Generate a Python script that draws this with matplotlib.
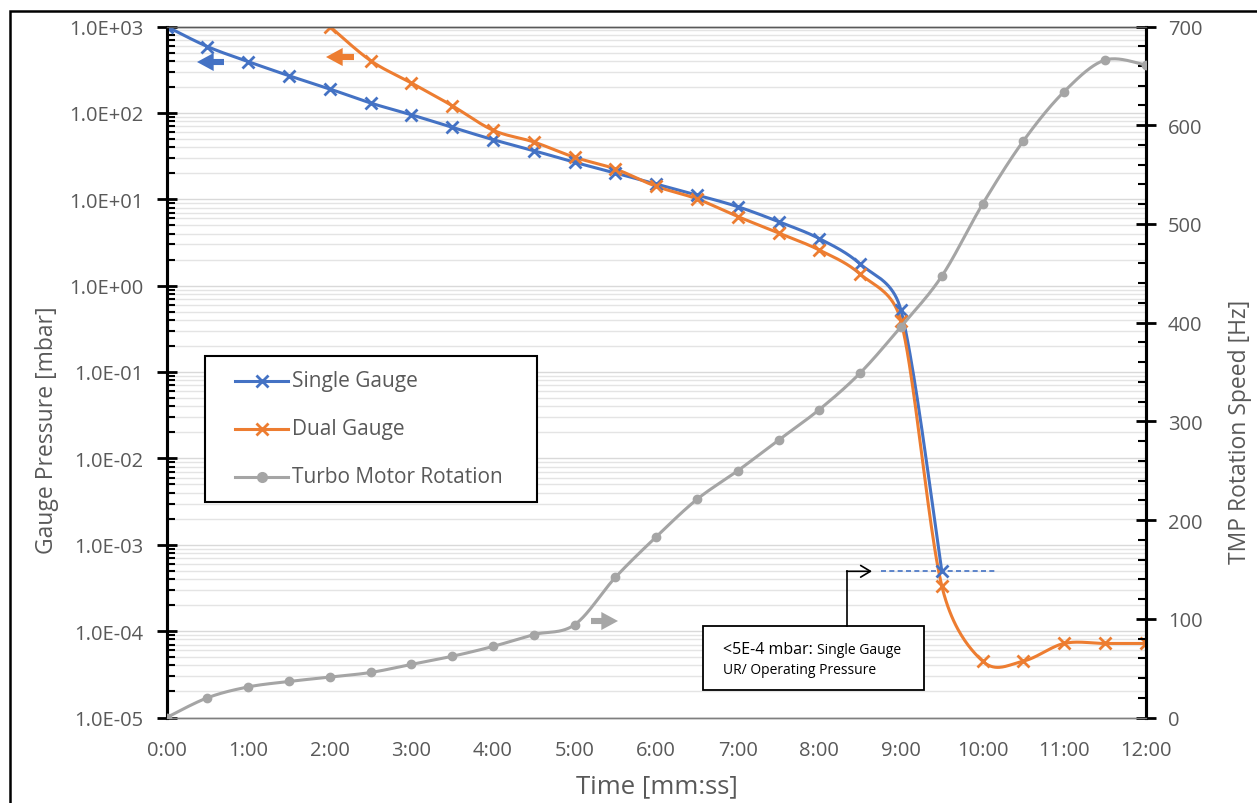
import numpy as np
import matplotlib
matplotlib.use("Agg")
import matplotlib.pyplot as plt
from matplotlib.patches import Rectangle, FancyArrowPatch
from matplotlib.lines import Line2D
from matplotlib.ticker import LogLocator, FixedLocator, MultipleLocator, NullFormatter

# ---------------- data ----------------
tick_minutes = list(range(0, 13))
tick_labels = ["0:00", "1:00", "2:00", "3:00", "4:00", "5:00", "6:00",
               "7:00", "8:00", "9:00", "10:00", "11:00", "12:00"]

single_time = [0, 0.5, 1, 1.5, 2, 2.5, 3, 3.5, 4, 4.5, 5, 5.5, 6, 6.5, 7, 7.5, 8, 8.5, 9, 9.5]
single_pressure = [1000, 585, 392, 269, 189, 130, 95, 68, 49, 36.5, 26.8, 20.1, 15.0, 11.2,
                   8.2, 5.5, 3.5, 1.78, 0.52, 5.0e-4]

dual_time = [2, 2.5, 3, 3.5, 4, 4.5, 5, 5.5, 6, 6.5, 7, 7.5, 8, 8.5, 9, 9.5, 10, 10.5, 11, 11.5, 12]
dual_pressure = [1000, 402, 222, 121, 63, 46, 30.6, 22.4, 14.1, 10.1, 6.3, 4.07, 2.58, 1.36,
                 0.39, 3.36e-4, 4.5e-5, 4.5e-5, 7.2e-5, 7.2e-5, 7.2e-5]

turbo_time = [0, 0.5, 1, 1.5, 2, 2.5, 3, 3.5, 4, 4.5, 5, 5.5, 6, 6.5, 7, 7.5, 8, 8.5, 9, 9.5,
              10, 10.5, 11, 11.5, 12]
turbo_speed = [0, 20, 31, 36.5, 41, 45.6, 53.8, 62, 72, 84, 94, 142, 183, 221, 250, 281, 312,
               349, 396, 447, 520, 584, 634, 666, 661]

ur_threshold = 5e-4
ur_line_span = [8.75, 10.18]

series_names = ["Single Gauge", "Dual Gauge", "Turbo Motor Rotation"]
c_blue, c_orange, c_gray = "#4472C4", "#ED7D31", "#A5A5A5"
txt_col = "#595959"
FONT = ["Open Sans", "DejaVu Sans"]

W, H = 1257, 804
fig = plt.figure(figsize=(W / 100, H / 100), dpi=100)
L, R, T, B = 166.7, 1145.7, 27.5, 718.5
ax = fig.add_axes([L / W, 1 - B / H, (R - L) / W, (B - T) / H])
ax2 = ax.twinx()

ax.set_yscale("log")
ax.set_ylim(1e-5, 1e3)
ax.set_xlim(0, 12)
ax2.set_ylim(0, 700)


def smooth_on(axis, x, y, n=40):
    """Excel-like smoothed line computed in display space (Bezier, capped control arms)."""
    disp = axis.transData.transform(np.column_stack([x, y]))
    P = disp.astype(float)
    out = []
    for i in range(len(P) - 1):
        p0 = P[i - 1] if i > 0 else P[i]
        p1 = P[i]
        p2 = P[i + 1]
        p3 = P[i + 2] if i + 2 < len(P) else P[i + 1]
        d12 = np.hypot(*(p2 - p1))
        d02 = np.hypot(*(p2 - p0))
        d13 = np.hypot(*(p3 - p1))
        f = 1 / 6.0
        g = 1 / 6.0
        if d02 / 6.0 >= d12 / 2.0 and d02 > 0:
            f = d12 / (2.0 * d02)
        if d13 / 6.0 >= d12 / 2.0 and d13 > 0:
            g = d12 / (2.0 * d13)
        c1 = p1 + f * (p2 - p0)
        c2 = p2 - g * (p3 - p1)
        t = np.linspace(0, 1, n)[:, None]
        b = ((1 - t) ** 3) * p1 + 3 * ((1 - t) ** 2) * t * c1 + 3 * (1 - t) * t ** 2 * c2 + t ** 3 * p2
        out.append(b if i == 0 else b[1:])
    out = np.vstack(out)
    data = axis.transData.inverted().transform(out)
    return data[:, 0], data[:, 1]


# --- pressure lines (left log axis)
sx, sy = smooth_on(ax, single_time, single_pressure)
ax.plot(sx, sy, color=c_blue, lw=2.2, zorder=4)
ax.plot(single_time, single_pressure, ls="none", marker="x", ms=9, mew=2, color=c_blue, zorder=5)

dx, dy = smooth_on(ax, dual_time, dual_pressure)
ax.plot(dx, dy, color=c_orange, lw=2.2, zorder=4)
ax.plot(dual_time, dual_pressure, ls="none", marker="x", ms=9, mew=2, color=c_orange, zorder=5)

ax.plot(ur_line_span, [ur_threshold, ur_threshold], color=c_blue, lw=1.2, ls=(0, (3, 2)), zorder=3)

# --- turbo on right axis
tx, ty = smooth_on(ax2, turbo_time, turbo_speed)
ax2.plot(tx, ty, color=c_gray, lw=2.2, zorder=4)
ax2.plot(turbo_time, turbo_speed, ls="none", marker="o", ms=6, color=c_gray, zorder=5)

# --- grids
ax.yaxis.set_major_locator(LogLocator(base=10, numticks=20))
ax.yaxis.set_minor_locator(LogLocator(base=10, subs=np.arange(2, 10), numticks=20))
ax.yaxis.set_minor_formatter(NullFormatter())
ax.grid(True, which="major", axis="y", color="#d9d9d9", lw=1.0, zorder=0)
ax.grid(True, which="minor", axis="y", color="#e4e4e4", lw=1.0, zorder=0)
ax.set_axisbelow(True)
ax.xaxis.grid(False)

# --- ticks
ax.set_yticks([10.0 ** k for k in range(-5, 4)])
ax.set_yticklabels(["1.0E{}{:02d}".format("+" if k >= 0 else "-", abs(k)) for k in range(-5, 4)])
ax.xaxis.set_major_locator(FixedLocator(tick_minutes))
ax.set_xticklabels(tick_labels)
ax.tick_params(axis="x", length=0, pad=16, labelsize=14.5, labelcolor=txt_col)
ax.tick_params(axis="y", which="major", direction="inout", length=14, width=2,
               color="black", pad=10, labelsize=14.5, labelcolor=txt_col)
ax.tick_params(axis="y", which="minor", direction="in", length=6, width=1.5, color="black")
for lab in ax.get_xticklabels() + ax.get_yticklabels():
    lab.set_fontfamily(FONT)

ax2.yaxis.set_major_locator(MultipleLocator(100))
ax2.yaxis.set_minor_locator(MultipleLocator(20))
ax2.tick_params(axis="y", which="major", direction="inout", length=14, width=2,
                color="black", pad=9, labelsize=14.5, labelcolor=txt_col)
ax2.tick_params(axis="y", which="minor", direction="in", length=6, width=1.5, color="black")
for lab in ax2.get_yticklabels():
    lab.set_fontfamily(FONT)

for a in (ax, ax2):
    for s in ("left", "right"):
        a.spines[s].set_linewidth(2.2)
        a.spines[s].set_color("black")
    a.spines["top"].set_color("#595959")
    a.spines["top"].set_linewidth(1.0)
    a.spines["bottom"].set_color("#7f7f7f")
    a.spines["bottom"].set_linewidth(1.0)

# --- axis titles
fig.text(47 / W, 1 - 430 / H, "Gauge Pressure [mbar]", rotation=90, ha="center", va="center",
         fontsize=16.5, color=txt_col, family=FONT)
fig.text(1240 / W, 1 - 432 / H, "TMP Rotation Speed [Hz]", rotation=90, ha="center", va="center",
         fontsize=16.5, color=txt_col, family=FONT)
fig.text(657 / W, 1 - 787 / H, "Time [mm:ss]", ha="center", va="center",
         fontsize=18.5, color=txt_col, family=FONT)


def fpx(x, y):
    return (x / W, 1 - y / H)


# --- legend (drawn as a framed key)
fig.add_artist(Rectangle(fpx(205, 503), (537 - 205) / W, (503 - 357) / H, transform=fig.transFigure,
                         facecolor="white", edgecolor="black", lw=1.5, zorder=10))
legend_styles = [(c_blue, "x", 8), (c_orange, "x", 8), (c_gray, "o", 6)]
for k, (name, (col, mk, ms)) in enumerate(zip(series_names, legend_styles)):
    yy = 382 + 48 * k
    fig.add_artist(Line2D([235 / W, 288 / W], [1 - yy / H] * 2, transform=fig.transFigure,
                          color=col, lw=2.2, zorder=11))
    fig.add_artist(Line2D([261.5 / W], [1 - yy / H], transform=fig.transFigure, color=col,
                          marker=mk, ms=ms, mew=2, ls="none", zorder=12))
    fig.text(292 / W, 1 - yy / H, name, ha="left", va="center", fontsize=15, color=txt_col,
             family=FONT, zorder=12)

# --- direction arrows
arrow_specs = [((197, 63), (224, 63), c_blue), ((326, 58), (354, 58), c_orange),
               ((618, 622), (591, 622), "#A6A6A6")]
for head, tail, col in arrow_specs:
    fig.add_artist(FancyArrowPatch(
        fpx(*tail), fpx(*head), transform=fig.transFigure,
        arrowstyle="simple,head_length=0.6,head_width=0.65,tail_width=0.22",
        mutation_scale=20, color=col, shrinkA=0, shrinkB=0, lw=0, zorder=10))

# --- annotation box
fig.add_artist(Rectangle(fpx(703.3, 691), (924.3 - 703.3) / W, (691 - 627.3) / H,
                         transform=fig.transFigure, facecolor="white", edgecolor="black",
                         lw=1.3, zorder=10))
t1 = fig.text(723 / W, 1 - 650 / H, "<5E-4 mbar: ", ha="left", va="center", fontsize=11.5,
              color="black", family=FONT, zorder=11)
fig.canvas.draw()
bb = t1.get_window_extent()
fig.text(bb.x1 / W, bb.y0 / H, "Single Gauge", ha="left", va="bottom", fontsize=10,
         color="black", family=FONT, zorder=11)
fig.text(723 / W, 1 - 671 / H, "UR/ Operating Pressure", ha="left", va="center", fontsize=10,
         color="black", family=FONT, zorder=11)
fig.add_artist(Line2D([846.7 / W, 846.7 / W], [1 - 627.3 / H, 1 - 572.3 / H],
                      transform=fig.transFigure, color="black", lw=1.2, zorder=10))
fig.add_artist(FancyArrowPatch(
    fpx(846.7, 572.3), fpx(872, 572.3), transform=fig.transFigure,
    arrowstyle="->,head_length=0.5,head_width=0.3", mutation_scale=14,
    color="black", lw=1.2, shrinkA=0, shrinkB=0, zorder=10))

# --- chart border
fig.add_artist(Rectangle(fpx(10, 830), (1300 - 10) / W, (830 - 12) / H, transform=fig.transFigure,
                         fill=False, edgecolor="black", lw=1.8, zorder=20))

fig.savefig("out.png", dpi=100, facecolor="white")
